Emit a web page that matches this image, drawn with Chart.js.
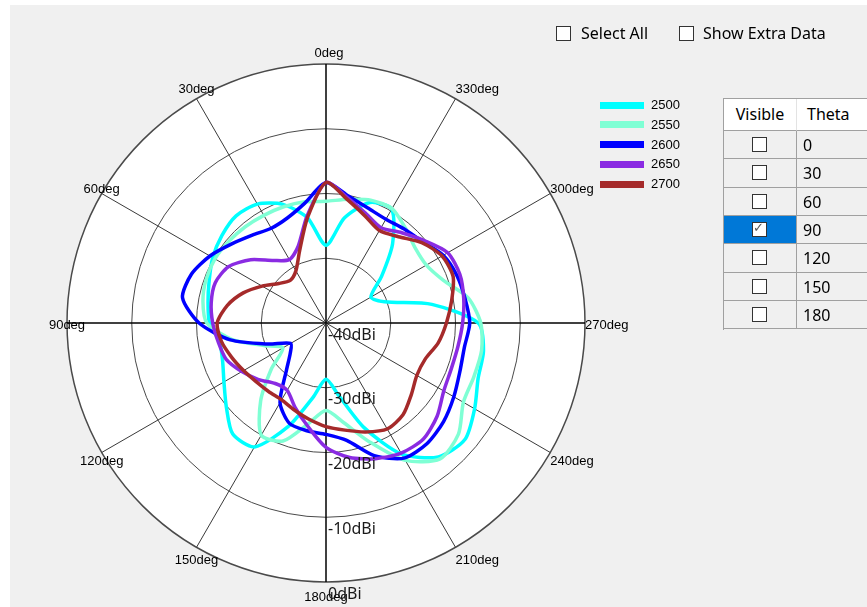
<!DOCTYPE html>
<html>
<head>
<meta charset="utf-8">
<title>Polar gain</title>
<script src="https://cdn.jsdelivr.net/npm/chart.js@4.4.1/dist/chart.umd.min.js"></script>
<style>
    html, body { margin: 0; padding: 0; width: 867px; height: 607px; overflow: hidden; background: #fff; }
    body { position: relative; font-family: "Noto Sans", sans-serif; color: #000; }
    #panel { position: absolute; left: 10px; top: 5px; width: 857px; height: 602px; background: #f0f0f0; }
    #polar { position: absolute; left: 0; top: 0; z-index: 1; }
    .ui { position: absolute; z-index: 2; white-space: nowrap; }
    .box { position: absolute; z-index: 2; width: 13px; height: 13px; border: 1px solid #333; background: #fff; }
    .txt { font-size: 16px; line-height: 22px; }
    .leg { font-family: "Liberation Sans", sans-serif; font-size: 13px; line-height: 16px; }
    .cell { position: absolute; z-index: 2; box-sizing: border-box; border-right: 1px solid #a0a0a0; border-bottom: 1px solid #a0a0a0; font-size: 16px; overflow: hidden; }
</style>
</head>
<body>
<div id="panel"></div>
<canvas id="polar" width="867" height="607"></canvas>

<div class="box" style="left:556px;top:26px"></div>
<div class="ui txt" style="left:581px;top:22px">Select All</div>
<div class="box" style="left:679px;top:26px"></div>
<div class="ui txt" style="left:703px;top:22px">Show Extra Data</div>

<div id="legend"></div>
<div id="grid"></div>

<script>
// angles are counter clockwise from the top, like on the plot
var angles = [0, 10, 20, 30, 40, 50, 60, 70, 80, 90, 100, 110, 120, 130, 140, 150, 160, 170,
              180, 190, 200, 210, 220, 230, 240, 250, 260, 270, 280, 290, 300, 310, 320, 330, 340, 350];

var gain2500 = [-28, -23.5, -20.5, -18.8, -18.4, -19, -19.8, -20.8, -21.5, -22, -23.3, -23, -21.8, -19.9, -17.6, -17.9, -23, -28.3,
                -31.3, -28.6, -22.8, -16.6, -13, -12, -13.5, -15, -15.3, -16.5, -23.4, -30.4, -32, -28.8, -24, -19.7, -20.2, -23.5];
var gain2550 = [-21.2, -21, -20.9, -20.8, -20.6, -20.4, -20.2, -20.3, -20.7, -21.6, -25.3, -29.8, -32.3, -29, -24.3, -20, -20.6, -24.2,
                -26.5, -24.4, -20.5, -15.5, -12.6, -13.3, -15.5, -15.7, -15.6, -16.1, -17.7, -20.7, -22.1, -22, -20.9, -19.6, -19.8, -20.6];
var gain2600 = [-18.3, -21.2, -22.7, -23.1, -22.3, -21, -19.3, -17.9, -17.5, -20.4, -25, -30.5, -33.7, -32.8, -30.5, -25.8, -23.5, -23.1,
                -22.8, -21.6, -18.2, -15.9, -15.7, -16.3, -17.2, -18, -18.3, -17.8, -18.2, -18.5, -19.1, -20.5, -21.1, -21.5, -21.1, -20.1];
var gain2650 = [-18.3, -23.2, -27.4, -28.7, -27.4, -24.8, -22.6, -21.8, -22, -22.5, -23.1, -23.6, -25, -26.4, -27.8, -28, -26.1, -23.8,
                -20.8, -18.9, -17.7, -16.8, -16.6, -17.6, -19, -19.4, -19.3, -18.9, -18.4, -18, -18.3, -20.2, -21.8, -23, -22, -20.4];
var gain2700 = [-18.3, -23.5, -28.1, -30.7, -31.4, -30.5, -28.6, -26.4, -24.5, -23.2, -23.6, -24.5, -25.3, -25.9, -26.2, -26.3, -25.7, -24.9,
                -24, -23.2, -22.1, -21.1, -21.5, -22.8, -23.8, -23.7, -22.4, -21.4, -20.3, -19.1, -19.3, -20.7, -22.6, -23.5, -22.4, -20.7];

var seriesNames = ['2500', '2550', '2600', '2650', '2700'];
var seriesColors = ['#00ffff', '#7fffd4', '#0000ff', '#8a2be2', '#a52a2a'];
var seriesData = [gain2500, gain2550, gain2600, gain2650, gain2700];

var tickValues = [-40, -30, -20, -10, 0];
var thetaRows = [0, 30, 60, 90, 120, 150, 180];
var visibleRows = [false, false, false, true, false, false, false];

// chart.js walks clockwise, the plot walks counter clockwise
var chartIdx = angles.map(function (a, i) { return (angles.length - i) % angles.length; });
var chartAngles = chartIdx.map(function (k) { return angles[k]; });

var datasets = seriesData.map(function (s, n) {
    return {
        label: seriesNames[n],
        data: chartIdx.map(function (k) { return s[k]; }),
        borderColor: seriesColors[n],
        backgroundColor: seriesColors[n],
        fill: false,
        order: seriesData.length - 1 - n
    };
});

// spoke labels and dBi labels
var labelPlugin = {
    id: 'polarLabels',
    afterDraw: function (chart) {
        var scale = chart.scales.r;
        var ctx = chart.ctx;
        ctx.save();
        ctx.fillStyle = '#000';
        ctx.textBaseline = 'middle';
        ctx.font = '13px "Liberation Sans"';
        chart.data.labels.forEach(function (deg, i) {
            if (deg % 30 !== 0) return;
            var p = scale.getPointPosition(i, scale.drawingArea);
            ctx.textAlign = deg > 180 ? 'left' : 'center';
            ctx.fillText(deg + 'deg', p.x + (deg === 0 ? 3 : 0), p.y + 2 - 13 * Math.cos(deg * Math.PI / 180));
        });
        ctx.font = '16px "Noto Sans"';
        ctx.fillStyle = '#1a1a1a';
        ctx.textAlign = 'left';
        tickValues.forEach(function (v) {
            var d = scale.getDistanceFromCenterForValue(v);
            ctx.fillText(v + 'dBi', scale.xCenter + 2, scale.yCenter + d + 12);
        });
        ctx.restore();
    }
};

var ctx = document.getElementById('polar').getContext('2d');
var chartPolar = new Chart(ctx, {
    type: 'radar',
    data: {
        labels: chartAngles,
        datasets: datasets
    },
    options: {
        responsive: false,
        animation: false,
        devicePixelRatio: 1,
        layout: { padding: { left: 67, top: 64, right: 282, bottom: 25 } },
        elements: {
            point: { radius: 0, hitRadius: 0, hoverRadius: 0 },
            line: { borderWidth: 3.5, tension: 0.25 }
        },
        plugins: {
            legend: { display: false },
            tooltip: { enabled: false }
        },
        scales: {
            r: {
                min: -40,
                max: 0,
                backgroundColor: '#ffffff',
                ticks: { display: false, stepSize: 10 },
                pointLabels: { display: false },
                grid: {
                    circular: true,
                    color: '#4a4a4a',
                    lineWidth: function (c) { return c.index === tickValues.length - 1 ? 1.5 : 1; }
                },
                angleLines: {
                    color: function (c) { return chartAngles[c.index] % 90 === 0 ? '#000000' : '#3a3a3a'; },
                    lineWidth: function (c) {
                        var a = chartAngles[c.index];
                        if (a % 30 !== 0) return 0;
                        return a % 90 === 0 ? 1.5 : 1;
                    }
                }
            }
        }
    },
    plugins: [labelPlugin]
});

// legend
var legend = document.getElementById('legend');
seriesNames.forEach(function (name, n) {
    var cy = 105 + n * 19.75;
    var sw = document.createElement('div');
    sw.className = 'ui';
    sw.style.cssText = 'left:600px;top:' + (cy - 3.5) + 'px;width:44px;height:7px;background:' + seriesColors[n];
    legend.appendChild(sw);
    var tx = document.createElement('div');
    tx.className = 'ui leg';
    tx.style.cssText = 'left:651px;top:' + (cy - 8) + 'px';
    tx.textContent = name;
    legend.appendChild(tx);
});

// theta table
var grid = document.getElementById('grid');
function addCell(left, top, w, h, bg, html, extra) {
    var c = document.createElement('div');
    c.className = 'cell';
    c.style.cssText = 'left:' + left + 'px;top:' + top + 'px;width:' + w + 'px;height:' + h + 'px;background:' + bg + ';' + (extra || '');
    c.innerHTML = html;
    grid.appendChild(c);
    return c;
}
var frame = document.createElement('div');
frame.className = 'ui';
frame.style.cssText = 'left:723px;top:98px;width:150px;height:231px;border-left:1px solid #a0a0a0;border-top:1px solid #a0a0a0';
grid.appendChild(frame);
addCell(724, 99, 73, 32, '#fff', '<div style="text-align:center;line-height:31px">Visible</div>', 'border-right-color:#e3e3e3');
addCell(797, 99, 100, 32, '#fff', '<div style="padding-left:10px;line-height:31px">Theta</div>');
var rowH = 28.33;
thetaRows.forEach(function (t, r) {
    var top = 131 + r * rowH;
    var on = visibleRows[r];
    var mark = on ? '<span style="position:absolute;left:0;top:-3px;font:13px DejaVu Sans;color:#555">&#10003;</span>' : '';
    addCell(724, top, 73, rowH, on ? '#0078d7' : '#f0f0f0',
        '<div style="position:absolute;left:28px;top:6px;width:13px;height:13px;border:1px solid #333;background:#fff">' + mark + '</div>');
    addCell(797, top, 100, rowH, '#f0f0f0', '<div style="padding-left:6px;line-height:28px">' + t + '</div>');
});
</script>
</body>
</html>
